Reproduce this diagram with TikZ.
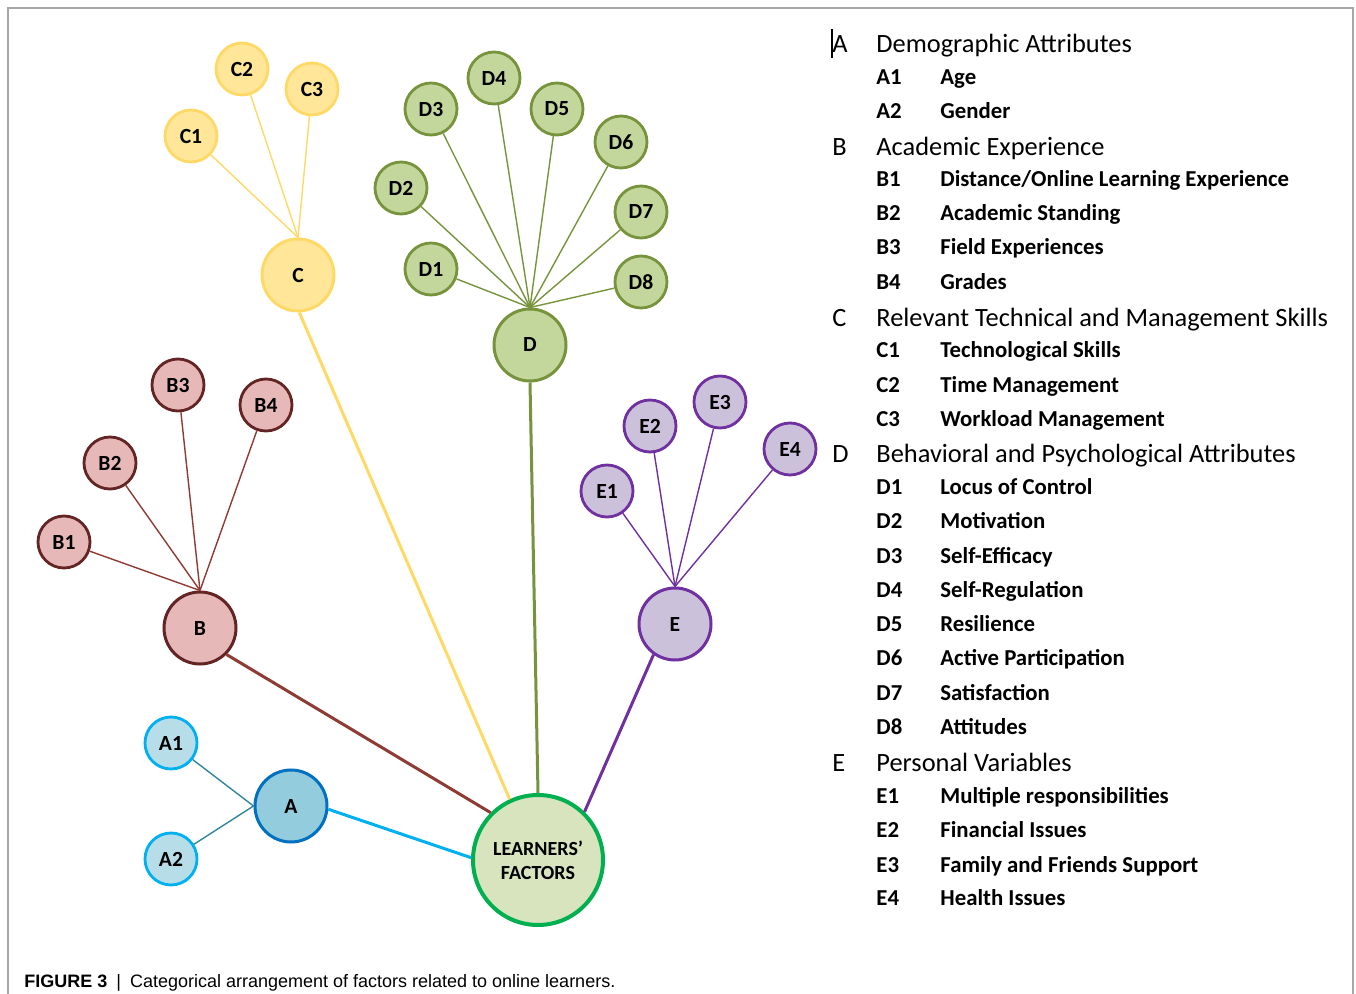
\documentclass[tikz,border=0pt]{standalone}
\usepackage{fontspec}
\setmainfont{Carlito}
\newfontfamily\capfont{Liberation Sans}
\definecolor{lfFill}{HTML}{D7E4BD}
\definecolor{lfLine}{HTML}{00B050}
\definecolor{aFill}{HTML}{93CDDD}
\definecolor{aLine}{HTML}{0070C0}
\definecolor{aLeafFill}{HTML}{B7DEE8}
\definecolor{aLeafLine}{HTML}{00B0F0}
\definecolor{aTwig}{HTML}{31859C}
\definecolor{bFill}{HTML}{E6B9B8}
\definecolor{bLine}{HTML}{632523}
\definecolor{bTwig}{HTML}{8E3B33}
\definecolor{cFill}{HTML}{FFE699}
\definecolor{cLine}{HTML}{FFD966}
\definecolor{dFill}{HTML}{C3D69B}
\definecolor{dLine}{HTML}{77933C}
\definecolor{eFill}{HTML}{CCC1DA}
\definecolor{eLine}{HTML}{7030A0}
\definecolor{frameGray}{HTML}{A6A6A6}
\tikzset{
  hub/.style={circle, line width=1.5pt, minimum size=36pt, inner sep=0pt,
    font=\fontsize{10.8}{12}\selectfont\bfseries},
  leaf/.style={circle, line width=1.4pt, minimum size=26pt, inner sep=0pt,
    font=\fontsize{10.8}{12}\selectfont\bfseries},
  twig/.style={line width=0.7pt},
  branch/.style={line width=1.5pt},
  head/.style={anchor=base west, inner sep=0pt, font=\fontsize{13.2}{15}\selectfont},
  item/.style={anchor=base west, inner sep=0pt, font=\fontsize{11.4}{13}\selectfont\bfseries}
}
\begin{document}
\begin{tikzpicture}[x=0.5pt,y=-0.5pt]
\useasboundingbox (0,0) rectangle (1356,994);
\draw[frameGray, line width=0.75pt] (8,994) -- (8,8) -- (1353,8) -- (1353,994);

% centre
\node[circle, draw=lfLine, fill=lfFill, line width=2pt, minimum size=65pt, inner sep=0pt,
  align=center, font=\fontsize{10}{12}\selectfont\bfseries] (LF) at (538,860) {LEARNERS'\\FACTORS};

% A
\node[hub, draw=aLine, fill=aFill] (A) at (291,806) {A};
\node[leaf, draw=aLeafLine, fill=aLeafFill] (A1) at (171,743) {A1};
\node[leaf, draw=aLeafLine, fill=aLeafFill] (A2) at (171,859) {A2};
\draw[twig, aTwig] (A1) -- (A.west);
\draw[twig, aTwig] (A2) -- (A.west);
\draw[branch, aLeafLine] (A.355) -- (LF.178);

% B
\node[hub, draw=bLine, fill=bFill] (B) at (200,628) {B};
\node[leaf, draw=bLine, fill=bFill] (B1) at (64,542) {B1};
\node[leaf, draw=bLine, fill=bFill] (B2) at (110,463) {B2};
\node[leaf, draw=bLine, fill=bFill] (B3) at (178,385) {B3};
\node[leaf, draw=bLine, fill=bFill] (B4) at (266,405) {B4};
\draw[twig, bTwig] (B1) -- (B.north);
\draw[twig, bTwig] (B2) -- (B.north);
\draw[twig, bTwig] (B3) -- (B.north);
\draw[twig, bTwig] (B4) -- (B.north);
\draw[branch, bTwig] (B.315) -- (LF.135);

% C
\node[hub, draw=cLine, fill=cFill] (C) at (298,275) {C};
\node[leaf, draw=cLine, fill=cFill] (C1) at (191,136) {C1};
\node[leaf, draw=cLine, fill=cFill] (C2) at (242,69) {C2};
\node[leaf, draw=cLine, fill=cFill] (C3) at (312,89) {C3};
\draw[twig, cLine] (C1) -- (C.north);
\draw[twig, cLine] (C2) -- (C.north);
\draw[twig, cLine] (C3) -- (C.north);
\draw[branch, cLine] (C.272) -- (LF.115);

% D
\node[hub, draw=dLine, fill=dFill] (D) at (530,345) {D};
\node[leaf, draw=dLine, fill=dFill] (D1) at (431,269) {D1};
\node[leaf, draw=dLine, fill=dFill] (D2) at (401,188) {D2};
\node[leaf, draw=dLine, fill=dFill] (D3) at (431,109) {D3};
\node[leaf, draw=dLine, fill=dFill] (D4) at (494,78) {D4};
\node[leaf, draw=dLine, fill=dFill] (D5) at (557,109) {D5};
\node[leaf, draw=dLine, fill=dFill] (D6) at (621,142) {D6};
\node[leaf, draw=dLine, fill=dFill] (D7) at (641,212) {D7};
\node[leaf, draw=dLine, fill=dFill] (D8) at (641,282) {D8};
\draw[twig, dLine] (D1) -- (D.north);
\draw[twig, dLine] (D2) -- (D.north);
\draw[twig, dLine] (D3) -- (D.north);
\draw[twig, dLine] (D4) -- (D.north);
\draw[twig, dLine] (D5) -- (D.north);
\draw[twig, dLine] (D6) -- (D.north);
\draw[twig, dLine] (D7) -- (D.north);
\draw[twig, dLine] (D8) -- (D.north);
\draw[branch, dLine] (D.south) -- (LF.north);

% E
\node[hub, draw=eLine, fill=eFill] (E) at (675,624) {E};
\node[leaf, draw=eLine, fill=eFill] (E1) at (607,491) {E1};
\node[leaf, draw=eLine, fill=eFill] (E2) at (650,426) {E2};
\node[leaf, draw=eLine, fill=eFill] (E3) at (720,402) {E3};
\node[leaf, draw=eLine, fill=eFill] (E4) at (790,449) {E4};
\draw[twig, eLine] (E1) -- (E.north);
\draw[twig, eLine] (E2) -- (E.north);
\draw[twig, eLine] (E3) -- (E.north);
\draw[twig, eLine] (E4) -- (E.north);
\draw[branch, eLine] (E.235) -- (LF.46);

% legend
\draw[line width=0.6pt] (832,29) -- (832,58);
\node[head] (kA) at (832,53) {A};
\node[head] (hA) at (876,53) {Demographic Attributes};
\node[item] (kA1) at (876,85) {A1};  \node[item] (tA1) at (940,85) {Age};
\node[item] (kA2) at (876,119) {A2}; \node[item] (tA2) at (940,119) {Gender};
\node[head] (kB) at (832,156) {B};
\node[head] (hB) at (876,156) {Academic Experience};
\node[item] (kB1) at (876,187) {B1}; \node[item] (tB1) at (940,187) {Distance/Online Learning Experience};
\node[item] (kB2) at (876,221) {B2}; \node[item] (tB2) at (940,221) {Academic Standing};
\node[item] (kB3) at (876,255) {B3}; \node[item] (tB3) at (940,255) {Field Experiences};
\node[item] (kB4) at (876,290) {B4}; \node[item] (tB4) at (940,290) {Grades};
\node[head] (kC) at (832,327) {C};
\node[head] (hC) at (876,327) {Relevant Technical and Management Skills};
\node[item] (kC1) at (876,358) {C1}; \node[item] (tC1) at (940,358) {Technological Skills};
\node[item] (kC2) at (876,393) {C2}; \node[item] (tC2) at (940,393) {Time Management};
\node[item] (kC3) at (876,427) {C3}; \node[item] (tC3) at (940,427) {Workload Management};
\node[head] (kD) at (832,463) {D};
\node[head] (hD) at (876,463) {Behavioral and Psychological Attributes};
\node[item] (kD1) at (876,495) {D1}; \node[item] (tD1) at (940,495) {Locus of Control};
\node[item] (kD2) at (876,529) {D2}; \node[item] (tD2) at (940,529) {Motivation};
\node[item] (kD3) at (876,564) {D3}; \node[item] (tD3) at (940,564) {Self-Efficacy};
\node[item] (kD4) at (876,598) {D4}; \node[item] (tD4) at (940,598) {Self-Regulation};
\node[item] (kD5) at (876,632) {D5}; \node[item] (tD5) at (940,632) {Resilience};
\node[item] (kD6) at (876,666) {D6}; \node[item] (tD6) at (940,666) {Active Participation};
\node[item] (kD7) at (876,700) {D7}; \node[item] (tD7) at (940,700) {Satisfaction};
\node[item] (kD8) at (876,734) {D8}; \node[item] (tD8) at (940,734) {Attitudes};
\node[head] (kE) at (832,771) {E};
\node[head] (hE) at (876,771) {Personal Variables};
\node[item] (kE1) at (876,803) {E1}; \node[item] (tE1) at (940,803) {Multiple responsibilities};
\node[item] (kE2) at (876,837) {E2}; \node[item] (tE2) at (940,837) {Financial Issues};
\node[item] (kE3) at (876,872) {E3}; \node[item] (tE3) at (940,872) {Family and Friends Support};
\node[item] (kE4) at (876,905) {E4}; \node[item] (tE4) at (940,905) {Health Issues};

% caption
\node[anchor=base west, inner sep=0pt, font=\capfont\fontsize{9}{11}\selectfont] (caption) at (24,987)
  {\textbf{FIGURE 3}\enspace|\enspace Categorical arrangement of factors related to online learners.};
\end{tikzpicture}
\end{document}
